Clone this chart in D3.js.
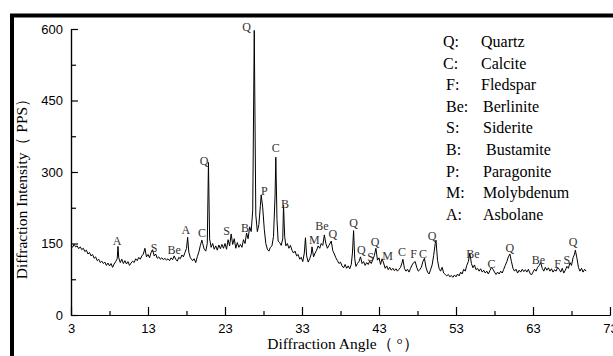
<!DOCTYPE html>
<html>
<head>
<meta charset="utf-8">
<script src="https://cdn.jsdelivr.net/npm/d3@7"></script>
<style>
  body { margin: 0; background: #fff; }
  svg { display: block; }
</style>
</head>
<body>
<svg id="chart" width="613" height="356"></svg>
<script>
// XRD pattern: [angle (deg), intensity (PPS)]
const pattern = [
  [3.0,146],[3.2,142],[3.4,148],[3.6,143],[3.8,145],[4.0,139],[4.2,143],[4.4,137],[4.6,140],[4.8,133],
  [5.0,136],[5.2,128],[5.4,131],[5.6,124],[5.8,127],[6.0,119],[6.2,122],[6.4,114],[6.6,117],[6.8,110],
  [7.0,113],[7.2,108],[7.4,111],[7.6,104],[7.8,109],[8.0,103],[8.2,108],[8.4,100],[8.6,107],[8.8,112],
  [9.0,118],[9.1,144],[9.2,120],[9.4,110],[9.6,117],[9.8,108],[10.0,114],[10.2,107],[10.4,112],[10.6,104],
  [10.8,109],[11.0,113],[11.2,110],[11.4,118],[11.6,114],[11.8,121],[12.0,117],[12.2,124],[12.4,128],[12.6,140],
  [12.8,122],[13.0,127],[13.2,120],[13.4,131],[13.6,137],[13.8,124],[14.0,128],[14.2,119],[14.4,122],[14.6,117],
  [14.8,120],[15.0,116],[15.2,119],[15.4,115],[15.6,118],[15.8,114],[16.0,120],[16.2,116],[16.4,124],[16.6,117],
  [16.8,113],[17.0,121],[17.2,118],[17.4,126],[17.6,122],[17.8,131],[18.0,140],[18.15,163],[18.3,132],[18.5,120],
  [18.8,114],[19.0,118],[19.2,110],[19.4,122],[19.6,132],[19.8,146],[20.0,157],[20.1,150],[20.3,138],[20.5,134],
  [20.7,150],[20.85,320],[21.0,160],[21.2,142],[21.4,150],[21.6,138],[21.8,145],[22.0,136],[22.2,147],[22.4,139],
  [22.6,148],[22.8,140],[23.0,150],[23.2,138],[23.4,158],[23.6,145],[23.8,170],[24.0,148],[24.2,160],[24.4,140],
  [24.6,152],[24.8,142],[25.0,148],[25.2,142],[25.4,158],[25.6,150],[25.8,172],[26.0,160],[26.2,185],[26.4,175],
  [26.6,220],[26.8,597],[27.0,210],[27.2,175],[27.4,190],[27.6,230],[27.7,252],[27.9,225],[28.1,180],[28.3,150],
  [28.5,138],[28.7,134],[28.9,142],[29.1,145],[29.3,165],[29.5,250],[29.6,331],[29.75,200],[29.9,155],[30.1,152],
  [30.3,146],[30.5,160],[30.6,231],[30.75,165],[30.9,145],[31.1,150],[31.3,140],[31.5,146],[31.7,136],[31.9,130],
  [32.1,134],[32.3,124],[32.5,127],[32.7,117],[32.9,121],[33.1,112],[33.3,130],[33.45,162],[33.6,124],[33.8,111],
  [34.0,118],[34.2,128],[34.3,143],[34.5,122],[34.7,130],[34.9,136],[35.1,145],[35.3,140],[35.5,150],[35.7,146],
  [35.9,168],[36.1,150],[36.3,140],[36.5,146],[36.8,155],[37.0,135],[37.2,128],[37.4,120],[37.6,114],[37.8,108],
  [38.0,111],[38.2,103],[38.4,99],[38.6,106],[38.8,98],[39.0,103],[39.2,97],[39.4,106],[39.55,130],[39.7,177],
  [39.85,118],[40.0,102],[40.2,108],[40.4,112],[40.6,122],[40.8,108],[41.0,112],[41.2,104],[41.4,110],[41.6,106],
  [41.8,113],[42.0,108],[42.2,116],[42.4,125],[42.6,140],[42.8,115],[43.0,120],[43.2,106],[43.4,118],[43.6,109],
  [43.8,98],[44.0,103],[44.2,95],[44.4,100],[44.6,94],[44.8,98],[45.0,93],[45.2,97],[45.4,92],[45.6,96],
  [45.8,100],[46.0,110],[46.1,117],[46.3,98],[46.5,92],[46.7,96],[46.9,90],[47.1,98],[47.3,105],[47.5,110],
  [47.7,112],[47.9,100],[48.1,92],[48.3,95],[48.5,100],[48.7,112],[48.9,119],[49.1,100],[49.3,90],[49.5,86],
  [49.7,95],[49.9,105],[50.1,125],[50.3,150],[50.4,157],[50.6,115],[50.8,98],[51.0,92],[51.2,100],[51.4,88],
  [51.6,85],[51.8,82],[52.0,85],[52.2,80],[52.4,83],[52.6,79],[52.8,84],[53.0,80],[53.2,86],[53.4,82],
  [53.6,90],[53.8,86],[54.0,96],[54.2,92],[54.4,104],[54.6,112],[54.8,130],[55.0,108],[55.2,99],[55.4,105],
  [55.6,95],[55.8,98],[56.0,92],[56.2,97],[56.4,90],[56.6,94],[56.8,88],[57.0,92],[57.2,86],[57.4,93],
  [57.6,100],[57.8,96],[58.0,90],[58.2,85],[58.4,90],[58.6,86],[58.8,92],[59.0,88],[59.2,96],[59.4,104],
  [59.6,112],[59.8,122],[60.0,128],[60.2,112],[60.4,98],[60.6,92],[60.8,96],[61.0,88],[61.2,94],[61.4,90],
  [61.6,96],[61.8,91],[62.0,95],[62.2,90],[62.4,96],[62.6,88],[62.8,84],[63.0,90],[63.2,96],[63.4,92],
  [63.6,100],[63.8,104],[64.0,110],[64.2,98],[64.4,92],[64.6,100],[64.8,94],[65.0,99],[65.2,92],[65.4,97],
  [65.6,90],[65.8,95],[66.0,92],[66.2,100],[66.4,96],[66.6,90],[66.8,98],[67.0,88],[67.2,94],[67.4,102],
  [67.6,98],[67.8,110],[68.0,104],[68.2,120],[68.4,128],[68.5,136],[68.7,120],[68.9,100],[69.1,92],[69.3,98],
  [69.5,90],[69.7,96],[69.9,92]
];

// phase labels above peaks: [text, angle, intensity at text baseline]
const peakLabels = [
  ['A', 9.0, 147], ['S', 13.8, 133], ['Be', 16.4, 129], ['A', 17.9, 170], ['C', 20.0, 163],
  ['Q', 20.3, 315], ['S', 23.2, 168], ['B', 25.6, 175], ['Q', 25.8, 596], ['P', 28.1, 252],
  ['C', 29.6, 343], ['B', 30.8, 224], ['M', 34.6, 150], ['Be', 35.6, 178], ['Q', 37.0, 161],
  ['Q', 39.7, 185], ['Q', 40.7, 128], ['S', 41.9, 114], ['Q', 42.5, 145], ['M', 44.1, 115],
  ['C', 46.0, 124], ['F', 47.5, 119], ['C', 48.7, 119], ['Q', 49.9, 157], ['Be', 55.2, 120],
  ['C', 57.6, 98], ['Q', 60.0, 133], ['Be', 63.7, 107], ['F', 66.2, 98], ['S', 67.4, 107],
  ['Q', 68.2, 145]
];

const legendKeys  = ['Q', 'C', 'F', 'Be', 'S', 'B', 'P', 'M', 'A'];
const legendNames = ['Quartz', 'Calcite', 'Fledspar', 'Berlinite', 'Siderite', 'Bustamite', 'Paragonite', 'Molybdenum', 'Asbolane'];

const xMajor = [3, 13, 23, 33, 43, 53, 63, 73];
const xMinor = [8, 18, 28, 38, 48, 58, 68];
const yMajor = [0, 150, 300, 450, 600];
const yMinor = [75, 225, 375, 525];

const svg = d3.select('#chart');
const plotLeft = 71, plotRight = 610, plotTop = 29, plotBottom = 315;

const x = d3.scaleLinear().domain([3, 73]).range([plotLeft, plotRight]);
const y = d3.scaleLinear().domain([0, 600]).range([plotBottom, plotTop]);

// thick outer frame (only top and left edges show)
svg.append('path')
  .attr('d', 'M12,356 L12,15.5 L613,15.5')
  .attr('fill', 'none')
  .attr('stroke', '#000')
  .attr('stroke-width', 4);

// axes, ticks pointing inward
function styleAxis(g) {
  g.selectAll('path, line').attr('stroke', '#000').attr('stroke-width', 1.2);
  g.selectAll('text')
    .attr('fill', '#000')
    .style('font-family', '"Liberation Sans", Arial, sans-serif')
    .style('font-size', '13px');
}

svg.append('g')
  .attr('transform', `translate(0,${plotBottom})`)
  .call(d3.axisBottom(x).tickValues(xMinor).tickSize(-4).tickSizeOuter(0).tickFormat(''))
  .call(styleAxis);
svg.append('g')
  .attr('transform', `translate(0,${plotBottom})`)
  .call(d3.axisBottom(x).tickValues(xMajor).tickSize(-8).tickSizeOuter(0).tickPadding(9).tickFormat(d3.format('d')))
  .call(styleAxis);

svg.append('g')
  .attr('transform', `translate(${plotLeft},0)`)
  .call(d3.axisLeft(y).tickValues(yMinor).tickSize(-5).tickSizeOuter(0).tickFormat(''))
  .call(styleAxis);
svg.append('g')
  .attr('transform', `translate(${plotLeft},0)`)
  .call(d3.axisLeft(y).tickValues(yMajor).tickSize(-7).tickSizeOuter(0).tickPadding(8).tickFormat(d3.format('d')))
  .call(styleAxis);

// pattern curve
const line = d3.line().x(d => x(d[0])).y(d => y(d[1]));
svg.append('path')
  .datum(pattern)
  .attr('d', line)
  .attr('fill', 'none')
  .attr('stroke', '#000')
  .attr('stroke-width', 1)
  .attr('stroke-linejoin', 'round');

// peak labels
svg.append('g')
  .selectAll('text')
  .data(peakLabels)
  .join('text')
  .attr('x', d => x(d[1]))
  .attr('y', d => y(d[2]))
  .attr('text-anchor', 'middle')
  .style('font-family', '"Liberation Serif", "Times New Roman", serif')
  .style('font-size', '12px')
  .attr('fill', '#333')
  .text(d => d[0]);

// legend
const legend = svg.append('g').style('font-family', '"Liberation Serif", "Times New Roman", serif').style('font-size', '16px');
legendKeys.forEach((k, i) => {
  const yy = 47 + i * 21.6;
  legend.append('text').attr('x', i < 2 ? 443 : 446).attr('y', yy).text(k + ':');
  legend.append('text').attr('x', i < 3 ? 481 : (i === 5 ? 486 : 483)).attr('y', yy).text(legendNames[i]);
});

// axis titles
svg.append('text')
  .attr('transform', 'translate(27,185) rotate(-90)')
  .attr('text-anchor', 'middle')
  .style('font-family', '"Liberation Serif", "Times New Roman", serif')
  .style('font-size', '15.5px')
  .text('Diffraction Intensity（ PPS）');

svg.append('text')
  .attr('x', 343)
  .attr('y', 349)
  .attr('text-anchor', 'middle')
  .style('font-family', '"Liberation Serif", "Times New Roman", serif')
  .style('font-size', '15.5px')
  .text('Diffraction Angle（ °）');
</script>
</body>
</html>
